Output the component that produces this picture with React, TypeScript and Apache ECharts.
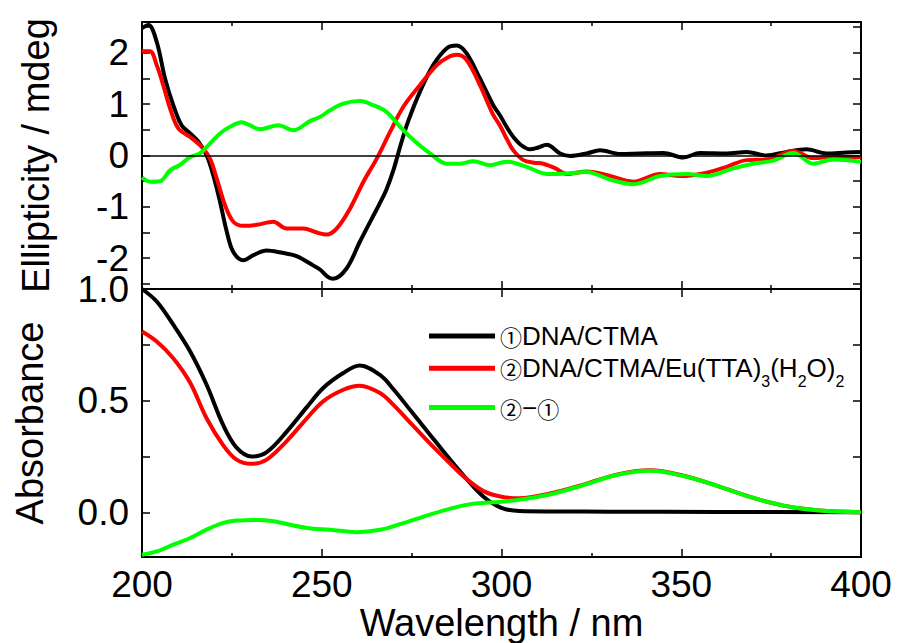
import React, { useEffect, useRef } from "react";
import * as echarts from "echarts";

// ---- Series names ----
const nameDna = "①DNA/CTMA";
const nameEu = "②DNA/CTMA/Eu(TTA)3(H2O)2";
const nameDiff = "②−①";

// ---- Axis tick values ----
const xTicks = [200, 250, 300, 350, 400];
const cdLabelValues = [-2, -1, 0, 1, 2];
const cdTickValues = [-2.5, -2, -1.5, -1, -0.5, 0, 0.5, 1, 1.5, 2, 2.5];
const absLabelValues = [0, 0.5, 1.0];
const absTickValues = [0, 0.25, 0.5, 0.75, 1.0];

// ---- CD spectra (Ellipticity / mdeg) ----
const cdDnaWl = [200, 201.8, 204.1, 206.4, 208.7, 211.0, 213.4, 215.7, 218.0, 219.8, 221.7, 223.6, 225.4, 228.2, 231.0, 234.7, 238.6, 243.0, 247.6, 249.5, 251.8, 253.2, 256.9, 260.6, 264.0, 266.0, 268.0, 270.0, 272.0, 274.0, 277.3, 281.0, 284.8, 287.5, 290.3, 294.0, 297.7, 299.6, 301.4, 303.3, 305.5, 307.9, 310.0, 312.6, 316.3, 319.1, 323.7, 327.4, 333.0, 338.5, 345.0, 350.6, 355.2, 362.6, 368.2, 373.7, 379.3, 384.8, 390.4, 396.0, 400];
const cdDnaVal = [2.48, 2.54, 2.21, 1.50, 0.98, 0.59, 0.43, 0.27, 0.0, -0.38, -0.90, -1.49, -1.88, -2.04, -1.94, -1.85, -1.89, -1.96, -2.14, -2.22, -2.37, -2.40, -2.20, -1.68, -1.22, -0.95, -0.66, -0.27, 0.22, 0.66, 1.24, 1.76, 2.09, 2.14, 1.99, 1.50, 0.98, 0.78, 0.56, 0.36, 0.20, 0.12, 0.15, 0.21, 0.04, -0.01, 0.04, 0.10, 0.03, 0.04, 0.05, -0.04, 0.05, 0.04, 0.07, 0.0, 0.07, 0.12, 0.04, 0.06, 0.07];

const cdEuWl = [200, 202.2, 204.1, 205.9, 207.8, 210.1, 213.4, 216.6, 218.9, 220.8, 223.1, 225.4, 228.2, 231.9, 236.5, 240.2, 244.9, 248.6, 251.4, 254.2, 257.9, 261.6, 265.3, 269.0, 272.7, 277.3, 282.0, 284.8, 287.5, 290.3, 294.0, 297.7, 299.6, 301.4, 303.3, 306.1, 309.0, 311.6, 315.0, 318.1, 323.7, 329.2, 336.7, 344.1, 349.7, 356.1, 362.6, 368.2, 373.7, 381.2, 386.7, 392.3, 400];
const cdEuVal = [2.03, 2.03, 1.76, 1.37, 0.92, 0.53, 0.36, 0.17, -0.06, -0.45, -0.97, -1.29, -1.37, -1.35, -1.29, -1.42, -1.42, -1.50, -1.54, -1.42, -1.03, -0.51, -0.06, 0.46, 0.95, 1.37, 1.76, 1.90, 1.96, 1.86, 1.37, 0.79, 0.58, 0.33, 0.10, -0.09, -0.14, -0.16, -0.25, -0.36, -0.31, -0.38, -0.51, -0.36, -0.40, -0.35, -0.22, -0.09, -0.08, 0.09, -0.05, -0.03, -0.03];

const cdDiffWl = [200, 202.2, 205.0, 207.8, 210.6, 213.4, 216.1, 218.9, 221.7, 224.5, 227.7, 230.0, 232.8, 237.9, 242.1, 246.7, 249.5, 252.3, 256.0, 260.6, 264.3, 268.0, 271.8, 275.5, 280.1, 284.8, 288.5, 292.2, 296.8, 301.4, 307.0, 312.6, 318.1, 323.7, 330.2, 336.7, 344.1, 351.5, 357.1, 364.5, 370.0, 375.6, 381.2, 386.7, 392.3, 400];
const cdDiffVal = [-0.43, -0.51, -0.50, -0.29, -0.18, -0.03, 0.04, 0.23, 0.43, 0.56, 0.65, 0.59, 0.51, 0.59, 0.49, 0.67, 0.75, 0.88, 1.01, 1.06, 0.98, 0.85, 0.56, 0.30, 0.04, -0.16, -0.16, -0.11, -0.19, -0.12, -0.22, -0.36, -0.35, -0.32, -0.47, -0.56, -0.40, -0.36, -0.40, -0.25, -0.16, -0.10, 0.05, -0.16, -0.08, -0.12];

// ---- Absorption spectra ----
const absDnaWl = [200, 204.1, 208.7, 213.4, 218.0, 222.6, 226.3, 230.5, 234.7, 240.2, 245.8, 250.4, 256.0, 260.6, 266.2, 270, 275, 280, 285, 290, 295, 300, 305, 315, 330, 360, 400];
const absDnaVal = [1.0, 0.944, 0.84, 0.72, 0.57, 0.39, 0.29, 0.25, 0.27, 0.36, 0.47, 0.557, 0.624, 0.657, 0.615, 0.55, 0.45, 0.35, 0.25, 0.155, 0.07, 0.02, 0.006, 0.004, 0.003, 0.002, 0.0];

const absEuWl = [200, 204.1, 208.7, 213.4, 218.0, 222.6, 226.3, 230.5, 234.7, 240.2, 245.8, 250.4, 256.0, 260.6, 266.2, 270, 275, 280, 285, 290, 295, 300, 305, 313.5, 322.8, 332.0, 341.3, 350.6, 359.8, 369.1, 378.4, 387.7, 400];
const absEuVal = [0.81, 0.765, 0.69, 0.58, 0.42, 0.30, 0.236, 0.217, 0.236, 0.318, 0.42, 0.497, 0.549, 0.567, 0.534, 0.48, 0.395, 0.31, 0.23, 0.153, 0.095, 0.07, 0.063, 0.084, 0.124, 0.169, 0.188, 0.164, 0.12, 0.069, 0.03, 0.009, 0.0];

const absDiffWl = [200, 204.1, 208.7, 213.4, 218.0, 222.6, 226.3, 231.9, 236.5, 245.8, 252.3, 259.7, 266.2, 272.7, 280.1, 286.6, 292.2, 297.7, 303.3, 313.5, 322.8, 332.0, 341.3, 350.6, 359.8, 369.1, 378.4, 387.7, 400];
const absDiffVal = [-0.19, -0.175, -0.145, -0.115, -0.077, -0.047, -0.037, -0.034, -0.04, -0.07, -0.078, -0.089, -0.078, -0.048, -0.01, 0.02, 0.039, 0.045, 0.053, 0.08, 0.122, 0.167, 0.186, 0.163, 0.12, 0.069, 0.03, 0.009, 0.0];

const colorDna = "#000000";
const colorEu = "#ff0000";
const colorDiff = "#00ff00";

const zip = (xs: number[], ys: number[]) => xs.map((x, i) => [x, ys[i]]);

const FONT = "'Liberation Sans', Arial, Helvetica, sans-serif";
const CJK = "'Noto Sans CJK JP', 'Noto Sans CJK SC', sans-serif";

export default function App() {
  const ref = useRef<HTMLDivElement>(null);

  useEffect(() => {
    if (!ref.current) return;
    const chart = echarts.init(ref.current, undefined, { renderer: "svg" });

    const axisLine = { show: true, onZero: false, lineStyle: { color: "#000", width: 2 } };
    const xBase = (gridIndex: number, position: string, labels: boolean) => ({
      type: "value",
      gridIndex,
      position,
      min: 200,
      max: 400,
      interval: 50,
      axisLine,
      axisTick: { show: true, inside: true, length: 8, customValues: xTicks, lineStyle: { color: "#000", width: 1.5 } },
      minorTick: { show: true, splitNumber: 2, length: 4, lineStyle: { color: "#000", width: 1.5 } },
      splitLine: { show: false },
      axisLabel: labels
        ? { show: true, fontSize: 37, color: "#000", fontFamily: FONT, margin: 9, customValues: xTicks }
        : { show: false },
    });

    const yBase = (
      gridIndex: number,
      position: string,
      min: number,
      max: number,
      ticks: number[],
      labels: number[] | null,
      fmt: (v: number) => string
    ) => ({
      type: "value",
      gridIndex,
      position,
      min,
      max,
      axisLine,
      axisTick: { show: true, inside: true, length: 8, customValues: ticks, lineStyle: { color: "#000", width: 1.5 } },
      splitLine: { show: false },
      axisLabel: labels
        ? { show: true, fontSize: 37, lineHeight: 27, color: "#000", fontFamily: FONT, margin: 13, customValues: labels, formatter: fmt }
        : { show: false },
    });

    const cdFmt = (v: number) => String(Math.round(v));
    const absFmt = (v: number) => v.toFixed(1);

    const lineSeries = (name: string, color: string, xi: number, yi: number, data: number[][], extra: any = {}) => ({
      name,
      type: "line",
      xAxisIndex: xi,
      yAxisIndex: yi,
      data,
      smooth: 0.35,
      showSymbol: false,
      symbol: "none",
      lineStyle: { color, width: 4 },
      itemStyle: { color },
      ...extra,
    });

    const legendRich: Record<string, string> = {
      [nameDna]: "{c|①}{m|DNA/CTMA}",
      [nameEu]: "{c|②}{m|DNA/CTMA/Eu(TTA)}{s|3}{m|(H}{s|2}{m|O)}{s|2}",
      [nameDiff]: "{c|②}{m|−}{c|①}",
    };

    const option: any = {
      animation: false,
      backgroundColor: "#ffffff",
      grid: [
        { left: 142, top: 22, width: 719, height: 267 },
        { left: 142, top: 289, width: 719, height: 268 },
      ],
      xAxis: [
        xBase(0, "bottom", false),
        xBase(0, "top", false),
        {
          ...xBase(1, "bottom", true),
          name: "Wavelength / nm",
          nameLocation: "middle",
          nameGap: 47,
          nameTextStyle: { fontSize: 38, color: "#000", fontFamily: FONT },
        },
        xBase(1, "top", false),
      ],
      yAxis: [
        {
          ...yBase(0, "left", -2.6, 2.6, cdTickValues, cdLabelValues, cdFmt),
          name: "Ellipticity / mdeg",
          nameLocation: "middle",
          nameGap: 87,
          nameTextStyle: { fontSize: 38, color: "#000", fontFamily: FONT },
        },
        yBase(0, "right", -2.6, 2.6, cdTickValues, null, cdFmt),
        {
          ...yBase(1, "left", -0.2, 1.0, absTickValues, absLabelValues, absFmt),
          name: "Absorbance",
          nameLocation: "middle",
          nameGap: 93,
          nameTextStyle: { fontSize: 38, color: "#000", fontFamily: FONT },
        },
        yBase(1, "right", -0.2, 1.0, absTickValues, null, absFmt),
      ],
      legend: {
        show: true,
        orient: "vertical",
        left: 424,
        top: 318,
        itemWidth: 66,
        itemHeight: 5,
        itemGap: 5.3,
        icon: "rect",
        data: [nameDna, nameEu, nameDiff],
        formatter: (name: string) => legendRich[name] || name,
        textStyle: {
          color: "#000",
          fontSize: 26,
          fontFamily: FONT,
          rich: {
            m: { fontSize: 26, lineHeight: 28, color: "#000", fontFamily: FONT },
            c: { fontSize: 22, lineHeight: 28, color: "#000", fontFamily: CJK },
            s: { fontSize: 16, lineHeight: 1, verticalAlign: "top", padding: [19, 0, 0, 0], color: "#000", fontFamily: FONT },
          },
        },
      },
      series: [
        lineSeries(nameDna, colorDna, 0, 0, zip(cdDnaWl, cdDnaVal), {
          markLine: {
            silent: true,
            symbol: ["none", "none"],
            label: { show: false },
            lineStyle: { color: "#000", width: 1.5, type: "solid" },
            data: [{ yAxis: 0 }],
          },
        }),
        lineSeries(nameEu, colorEu, 0, 0, zip(cdEuWl, cdEuVal)),
        lineSeries(nameDiff, colorDiff, 0, 0, zip(cdDiffWl, cdDiffVal)),
        lineSeries(nameDna, colorDna, 2, 2, zip(absDnaWl, absDnaVal)),
        lineSeries(nameEu, colorEu, 2, 2, zip(absEuWl, absEuVal)),
        lineSeries(nameDiff, colorDiff, 2, 2, zip(absDiffWl, absDiffVal)),
      ],
    };

    chart.setOption(option);
    return () => chart.dispose();
  }, []);

  return (
    <div
      ref={ref}
      style={{ position: "fixed", left: 0, top: 0, width: "897px", height: "643px", background: "#fff" }}
    />
  );
}
